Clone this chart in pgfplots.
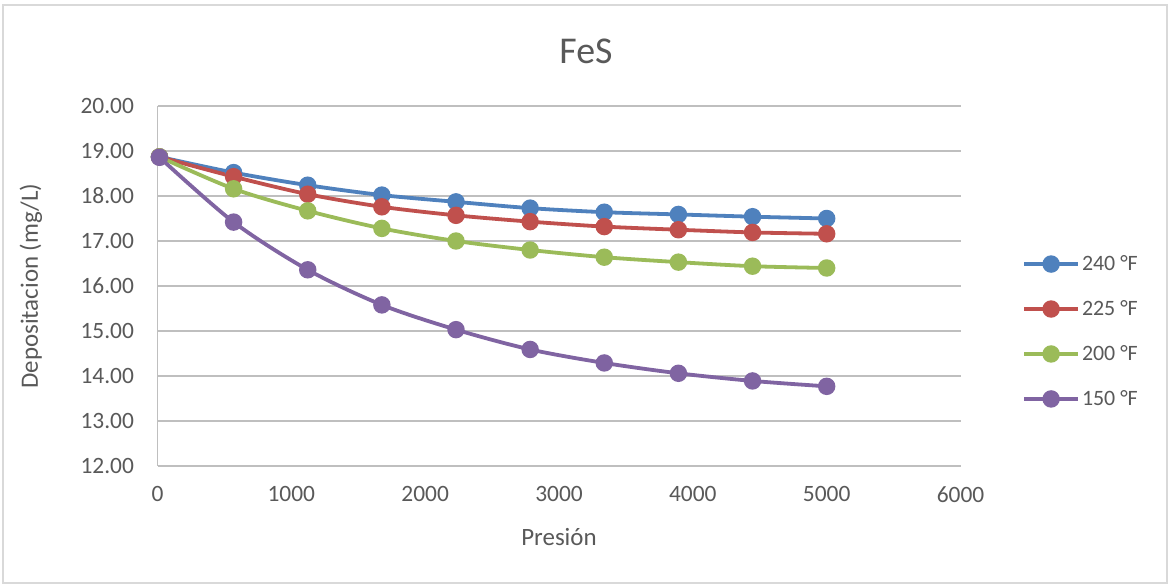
\documentclass[border=0pt]{standalone}
\usepackage{fontspec}
\setmainfont{Carlito}
\usepackage{pgfplots}
\pgfplotsset{compat=1.18}

\definecolor{sBlue}{HTML}{4F81BD}
\definecolor{sRed}{HTML}{C0504D}
\definecolor{sGreen}{HTML}{9BBB59}
\definecolor{sPurple}{HTML}{8064A2}
\definecolor{txt}{HTML}{595959}
\definecolor{grid}{HTML}{D9D9D9}
\definecolor{axln}{HTML}{BFBFBF}

\begin{document}
\begin{tikzpicture}[x=1bp,y=1bp]
  % chart area
  \fill[white] (0,0) rectangle (1170,584);
  \draw[grid,line width=1.2bp] (3,1) rectangle (1167,579);
  \node[txt,font=\fontsize{38}{45}\selectfont] at (586,533) {FeS};

  \begin{axis}[
    at={(157.5bp,118bp)}, anchor=south west,
    scale only axis,
    width=803bp, height=360bp,
    xmin=0, xmax=6000, ymin=12, ymax=20,
    xtick={0,1000,...,6000},
    ytick={12,13,...,20},
    axis x line*=bottom, axis y line*=left,
    axis line style={axln, line width=1.3bp, -},
    major tick length=0pt,
    xmajorgrids=false, ymajorgrids=true,
    grid style={grid, line width=1.3bp},
    /pgf/number format/assume math mode=true,
    xticklabel style={/pgf/number format/1000 sep={}},
    yticklabel style={/pgf/number format/.cd, fixed, fixed zerofill, precision=2},
    tick label style={txt, font=\fontsize{23.5}{28}\selectfont},
    xticklabel shift=17bp,
    yticklabel shift=20bp,
    xlabel={Presión},
    ylabel={Depositacion (mg/L)},
    label style={txt, font=\fontsize{25}{30}\selectfont},
    xlabel style={at={(axis description cs:0.5,-0.197)}, anchor=center},
    ylabel style={at={(axis description cs:-0.1575,0.5)}, anchor=center},
    legend style={at={(1.0766,0.3736)}, anchor=west, draw=none, fill=none,
      font=\fontsize{22}{26}\selectfont, text=txt, inner sep=0pt,
      row sep=24.5bp, cells={anchor=west}},
    legend image code/.code={
      \draw[mark repeat=2, mark phase=2] plot coordinates {(0bp,0bp) (27bp,0bp) (54bp,0bp)};},
    every axis plot/.append style={line width=3.8bp, smooth, tension=0.5,
      mark=*, mark size=6.8bp},
    clip=false,
  ]
  \addplot[sBlue, mark options={fill=sBlue, draw=sBlue}] coordinates {
    (14.7,18.87) (568.6,18.52) (1122.5,18.24) (1676.5,18.02) (2230.4,17.87)
    (2784.3,17.73) (3338.2,17.64) (3892.2,17.59) (4446.1,17.54) (5000,17.50)};
  \addlegendentry{240 °F}
  \addplot[sRed, mark options={fill=sRed, draw=sRed}] coordinates {
    (14.7,18.87) (568.6,18.43) (1122.5,18.04) (1676.5,17.76) (2230.4,17.57)
    (2784.3,17.43) (3338.2,17.32) (3892.2,17.25) (4446.1,17.19) (5000,17.16)};
  \addlegendentry{225 °F}
  \addplot[sGreen, mark options={fill=sGreen, draw=sGreen}] coordinates {
    (14.7,18.87) (568.6,18.16) (1122.5,17.67) (1676.5,17.28) (2230.4,17.00)
    (2784.3,16.80) (3338.2,16.64) (3892.2,16.53) (4446.1,16.44) (5000,16.40)};
  \addlegendentry{200 °F}
  \addplot[sPurple, mark options={fill=sPurple, draw=sPurple}] coordinates {
    (14.7,18.86) (568.6,17.42) (1122.5,16.36) (1676.5,15.58) (2230.4,15.03)
    (2784.3,14.59) (3338.2,14.29) (3892.2,14.06) (4446.1,13.89) (5000,13.77)};
  \addlegendentry{150 °F}
  \end{axis}
\end{tikzpicture}
\end{document}
